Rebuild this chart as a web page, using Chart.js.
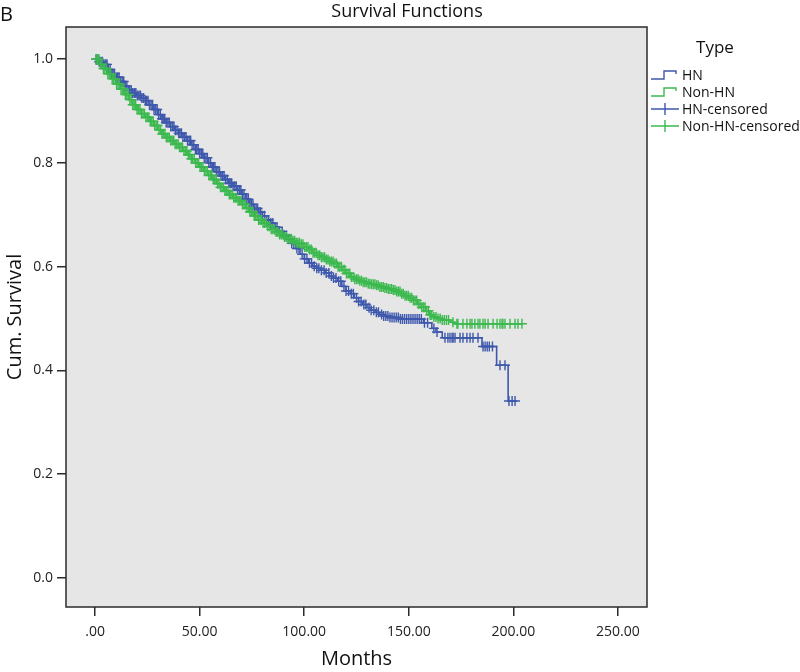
<!DOCTYPE html>
<html>
<head>
<meta charset="utf-8">
<script src="https://cdn.jsdelivr.net/npm/chart.js@4/dist/chart.umd.min.js"></script>
<style>
  html, body { margin: 0; padding: 0; background: #ffffff; }
  #wrap { width: 800px; height: 672px; position: relative; }
</style>
</head>
<body>
<div id="wrap"><canvas id="c" width="800" height="672"></canvas></div>
<script>
// ---------- DATA ----------
const chartTitle = "Survival Functions";
const panelLabel = "B";
const xAxisTitle = "Months";
const yAxisTitle = "Cum. Survival";
const legendTitle = "Type";
const seriesNames = ["HN", "Non-HN", "HN-censored", "Non-HN-censored"];
const xTickValues = [0, 50, 100, 150, 200, 250];
const yTickValues = [0, 0.2, 0.4, 0.6, 0.8, 1.0];

// HN: step points (time in months, cumulative survival after that time)
const hnTime = [0, 2, 4, 6, 8, 10, 12, 14, 16, 18, 20, 22, 24, 26, 28, 30, 32, 34, 36, 38, 40, 42, 44, 46, 48, 50,
  52, 54, 56, 58, 60, 62, 64, 66, 68, 70, 72, 74, 76, 78, 80, 82, 84, 86, 88, 90, 92, 94, 96, 98, 100,
  102, 104, 106, 108, 110, 112, 114, 116, 118, 120, 122, 124, 126, 128, 130, 132, 134, 136, 138, 141, 146,
  157, 161, 163, 166, 185, 192, 197.5, 201.5];
const hnSurv = [1.0, 0.995, 0.99, 0.98, 0.972, 0.965, 0.957, 0.948, 0.94, 0.935, 0.93, 0.925, 0.92, 0.912, 0.903, 0.893, 0.885, 0.878, 0.87, 0.863, 0.857, 0.85, 0.843, 0.835, 0.826, 0.818,
  0.81, 0.8, 0.792, 0.783, 0.775, 0.768, 0.761, 0.755, 0.748, 0.74, 0.73, 0.72, 0.712, 0.705, 0.698, 0.69, 0.684, 0.676, 0.668, 0.66, 0.653, 0.645, 0.635, 0.624, 0.615,
  0.607, 0.601, 0.597, 0.593, 0.588, 0.582, 0.578, 0.572, 0.562, 0.553, 0.548, 0.54, 0.533, 0.527, 0.521, 0.516, 0.512, 0.508, 0.505, 0.502, 0.499,
  0.492, 0.481, 0.474, 0.463, 0.446, 0.41, 0.341, 0.341];

// Non-HN step points
const nonTime = [0, 2, 4, 6, 8, 10, 12, 14, 16, 18, 20, 22, 24, 26, 28, 30, 32, 34, 36, 38, 40, 42, 44, 46, 48, 50,
  52, 54, 56, 58, 60, 62, 64, 66, 68, 70, 72, 74, 76, 78, 80, 82, 84, 86, 88, 90, 92, 94, 96, 98, 100,
  102, 104, 106, 108, 110, 112, 114, 116, 118, 120, 122, 124, 126, 128, 130, 132, 134, 136, 138, 140, 142, 144,
  146, 148, 150, 152, 154, 156, 158, 160, 162, 164, 166, 170, 172, 204.5];
const nonSurv = [1.0, 0.99, 0.982, 0.972, 0.962, 0.952, 0.942, 0.932, 0.922, 0.912, 0.903, 0.895, 0.888, 0.88, 0.872, 0.864, 0.856, 0.849, 0.843, 0.836, 0.83, 0.823, 0.816, 0.808, 0.8, 0.792,
  0.784, 0.776, 0.768, 0.76, 0.753, 0.746, 0.739, 0.733, 0.727, 0.72, 0.713, 0.706, 0.698, 0.69, 0.684, 0.678, 0.672, 0.667, 0.662, 0.657, 0.654, 0.65, 0.646, 0.643, 0.638,
  0.633, 0.627, 0.622, 0.618, 0.614, 0.61, 0.606, 0.6, 0.594, 0.587, 0.58, 0.576, 0.573, 0.57, 0.567, 0.566, 0.564, 0.561, 0.559, 0.557, 0.555, 0.552,
  0.548, 0.544, 0.54, 0.535, 0.528, 0.522, 0.515, 0.507, 0.503, 0.5, 0.497, 0.493, 0.49, 0.49];

// Censoring times (months)
const hnCensorTime = [0.5, 1.3, 2, 2.8, 3.5, 4.2, 5, 5.7, 6.4, 7.2, 8, 8.6, 9.3, 10, 10.8, 11.5, 12.2, 13, 13.7, 14.4,
  15.2, 16, 16.6, 17.3, 18, 18.8, 19.5, 20.2, 21, 21.7, 22.4, 23.2, 24, 24.6, 25.3, 26, 26.8, 27.5, 28.2, 29, 29.7,
  30.4, 31.2, 32, 32.6, 33.3, 34, 34.8, 35.5, 36.2, 37, 37.7, 38.4, 39.2, 40, 40.6, 41.3, 42, 42.8, 43.5, 44.2, 45,
  45.7, 46.4, 47.2, 48, 48.6, 49.3, 50, 50.8, 51.5, 52.2, 53, 53.7, 54.4, 55.2, 56, 56.6, 57.3, 58, 58.8, 59.5, 60.2,
  61, 61.7, 62.4, 63.2, 64, 64.6, 65.3, 66, 66.8, 67.5, 68.2, 69, 69.7, 70.4, 71.2, 72, 72.6, 73.3, 74, 74.8, 75.5,
  76.2, 77, 77.7, 78.4, 79.2, 80, 81, 82, 83, 84, 85, 86, 87, 88.2, 89.5, 90.5, 91.5, 92.8, 94, 95, 96.5, 97.5, 99,
  100.2, 101.3, 102.5, 103.5, 104.8, 106, 107, 108.2, 109.5, 110.5, 111.8, 113, 114, 115.2, 116.5, 117.5, 119, 120,
  121.2, 122.5, 123.5, 125, 126, 127.2, 128.5, 129.5, 131, 132, 133.3, 134.5, 135.5, 137, 138, 139, 140, 141, 142,
  143, 144, 145, 146, 147, 148, 149, 150, 151, 152, 153, 154, 155, 156, 157.5, 159, 162, 163.5,
  167.3, 168.7, 169.7, 170.7, 171.2, 172.1, 174.5, 175.9, 177.8, 179.3, 180.7, 183.1, 185.5, 186.5, 187.5, 188.5,
  190, 193.6, 196, 197.9, 199.4, 200.8];
const nonCensorTime = [0.5, 1.2, 1.9, 2.6, 3.3, 4, 4.7, 5.4, 6.1, 6.8, 7.5, 8.2, 8.9, 9.6, 10.3, 11, 11.7, 12.4, 13.1,
  13.8, 14.5, 15.2, 15.9, 16.6, 17.3, 18, 18.7, 19.4, 20.1, 20.8, 21.5, 22.2, 22.9, 23.6, 24.3, 25, 25.7, 26.4, 27.1,
  27.8, 28.5, 29.2, 29.9, 30.6, 31.3, 32, 32.7, 33.4, 34.1, 34.8, 35.5, 36.2, 36.9, 37.6, 38.3, 39, 39.7, 40.4, 41.1,
  41.8, 42.5, 43.2, 43.9, 44.6, 45.3, 46, 46.7, 47.4, 48.1, 48.8, 49.5, 50.2, 50.9, 51.6, 52.3, 53, 53.7, 54.4, 55.1,
  55.8, 56.5, 57.2, 57.9, 58.6, 59.3, 60, 60.7, 61.4, 62.1, 62.8, 63.5, 64.2, 64.9, 65.6, 66.3, 67, 67.7, 68.4, 69.1,
  69.8, 70.5, 71.2, 71.9, 72.6, 73.3, 74, 74.7, 75.4, 76.1, 76.8, 77.5, 78.2, 78.9, 79.6, 80.3, 81, 81.8, 82.6, 83.4,
  84.2, 85, 85.8, 86.6, 87.4, 88.2, 89, 89.8, 90.6, 91.4, 92.2, 93, 93.8, 94.6, 95.4, 96.2, 97, 97.8, 98.6, 99.4,
  100.2, 101, 101.8, 102.6, 103.4, 104.2, 105, 105.8, 106.6, 107.4, 108.2, 109, 109.8, 110.6, 111.4, 112.2, 113,
  113.8, 114.6, 115.4, 116.2, 117, 117.8, 118.6, 119.4, 120.2, 121, 121.8, 122.6, 123.4, 124.2, 125, 125.8, 126.6,
  127.4, 128.2, 129, 129.8, 130.6, 131.4, 132.2, 133, 133.8, 134.6, 135.4, 136.2, 137, 137.8, 138.6, 139.4, 140.2,
  141, 141.8, 142.6, 143.4, 144.2, 145, 145.8, 146.6, 147.4, 148.2, 149, 149.8, 150.6, 151.4, 152.2, 153, 153.8,
  154.6, 155.4, 156.2, 157, 157.8, 158.6, 159.4, 160.2, 161, 162, 163, 164, 165, 166, 167, 168, 169,
  171.1, 173.0, 173.5, 175.9, 177.8, 179.3, 180.2, 181.6, 183.1, 184, 185.5, 186.5, 187.9, 190.3, 192.2, 193.6,
  194.6, 195, 196, 198.4, 200.8, 202.2, 204.1];

// ---------- helpers ----------
function pairs(xs, ys) { return xs.map((x, i) => ({ x: x, y: ys[i] })); }
// survival value of a step curve at time t (value after the last step at or before t)
function stepValue(times, surv, t) {
  let v = surv[0];
  for (let i = 0; i < times.length; i++) { if (times[i] <= t) v = surv[i]; else break; }
  return v;
}
function censorPoints(ct, times, surv) { return ct.map(t => ({ x: t, y: stepValue(times, surv, t) })); }

const BLUE = "#3e58ac";
const GREEN = "#3cb94f";
const FONT = "'Open Sans', 'DejaVu Sans', sans-serif";

const decorPlugin = {
  id: "decor",
  beforeDraw(chart) {
    const { ctx, chartArea: a } = chart;
    ctx.save();
    ctx.fillStyle = "#e6e6e6";
    ctx.fillRect(a.left, a.top, a.right - a.left, a.bottom - a.top);
    ctx.restore();
  },
  afterDraw(chart) {
    const { ctx, chartArea: a } = chart;
    ctx.save();
    // frame
    ctx.strokeStyle = "#2b2b2b";
    ctx.lineWidth = 1.5;
    ctx.strokeRect(a.left, a.top, a.right - a.left, a.bottom - a.top);
    // texts
    ctx.fillStyle = "#111";
    ctx.textBaseline = "middle";
    ctx.font = "20px " + FONT;
    ctx.textAlign = "left";
    ctx.fillText(panelLabel, 0, 15);
    ctx.font = "18px " + FONT;
    ctx.textAlign = "center";
    ctx.fillText(chartTitle, 407, 12);
    ctx.font = "20px " + FONT;
    ctx.fillText(xAxisTitle, (a.left + a.right) / 2, 659);
    ctx.save();
    ctx.translate(15, (a.top + a.bottom) / 2);
    ctx.rotate(-Math.PI / 2);
    ctx.fillText(yAxisTitle, 0, 0);
    ctx.restore();
    // legend
    ctx.font = "17px " + FONT;
    ctx.fillText(legendTitle, 715, 48);
    ctx.font = "14px " + FONT;
    ctx.textAlign = "left";
    const rows = [75, 92, 109, 126];
    const cols = [BLUE, GREEN, BLUE, GREEN];
    ctx.lineWidth = 1.4;
    rows.forEach((y, i) => {
      ctx.strokeStyle = cols[i];
      ctx.beginPath();
      if (i < 2) {
        ctx.moveTo(651, y + 4); ctx.lineTo(664, y + 4); ctx.lineTo(664, y - 4);
        ctx.lineTo(676, y - 4); ctx.lineTo(676, y - 1);
      } else {
        ctx.moveTo(651, y); ctx.lineTo(679, y);
        ctx.moveTo(665, y - 6); ctx.lineTo(665, y + 6);
      }
      ctx.stroke();
      ctx.fillStyle = "#111";
      ctx.fillText(seriesNames[i], 682, y + 1);
    });
    ctx.restore();
  }
};

new Chart(document.getElementById("c"), {
  type: "scatter",
  data: {
    datasets: [
      { label: seriesNames[0], data: pairs(hnTime, hnSurv), showLine: true, stepped: true,
        borderColor: BLUE, borderWidth: 1.6, pointRadius: 0, order: 3 },
      { label: seriesNames[1], data: pairs(nonTime, nonSurv), showLine: true, stepped: true,
        borderColor: GREEN, borderWidth: 1.6, pointRadius: 0, order: 2 },
      { label: seriesNames[2], data: censorPoints(hnCensorTime, hnTime, hnSurv), showLine: false,
        pointStyle: "cross", pointRadius: 5, borderColor: BLUE, borderWidth: 1.4, backgroundColor: BLUE, order: 1 },
      { label: seriesNames[3], data: censorPoints(nonCensorTime, nonTime, nonSurv), showLine: false,
        pointStyle: "cross", pointRadius: 5, borderColor: GREEN, borderWidth: 1.4, backgroundColor: GREEN, order: 0 }
    ]
  },
  options: {
    responsive: false,
    animation: false,
    devicePixelRatio: 1,
    layout: { padding: { left: 0, right: 153, top: 27, bottom: 0 } },
    plugins: { legend: { display: false }, title: { display: false }, tooltip: { enabled: false } },
    scales: {
      x: {
        type: "linear", min: -13.9, max: 263.9,
        afterBuildTicks(s) { s.ticks = xTickValues.map(v => ({ value: v })); },
        afterFit(s) { s.height = 65; },
        grid: { display: true, drawOnChartArea: false, drawTicks: true, tickLength: 9, color: "#2b2b2b", lineWidth: 1.5 },
        border: { display: false },
        ticks: { padding: 8, color: "#222", font: { size: 14, family: FONT },
          callback: v => (v === 0 ? ".00" : v.toFixed(2)) }
      },
      y: {
        type: "linear", min: -0.056, max: 1.062,
        afterBuildTicks(s) { s.ticks = yTickValues.map(v => ({ value: v })); },
        afterFit(s) { s.width = 66; },
        grid: { display: true, drawOnChartArea: false, drawTicks: true, tickLength: 9, color: "#2b2b2b", lineWidth: 1.5 },
        border: { display: false },
        ticks: { padding: 4, color: "#222", font: { size: 14, family: FONT },
          callback: v => v.toFixed(1) }
      }
    }
  },
  plugins: [decorPlugin]
});
</script>
</body>
</html>
